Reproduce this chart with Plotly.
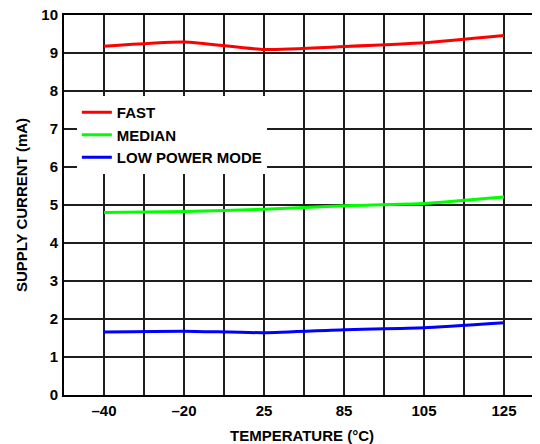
import plotly.graph_objects as go

temps = ["–40", "–20", "25", "85", "105", "125"]
fast = [9.18, 9.29, 9.09, 9.17, 9.27, 9.46]
median = [4.80, 4.83, 4.89, 4.98, 5.04, 5.21]
low_power = [1.66, 1.68, 1.64, 1.72, 1.77, 1.90]

series = [("FAST", fast, "#ff0000"), ("MEDIAN", median, "#00ff00"),
          ("LOW POWER MODE", low_power, "#0000ff")]

FONT = "Liberation Sans, Arial, sans-serif"
GRID = "#1e1e1e"

xs = list(range(len(temps)))
fig = go.Figure()
for name, vals, color in series:
    fig.add_trace(go.Scatter(x=xs, y=vals, name=name, mode="lines",
                             line=dict(color=color, width=3, shape="spline", smoothing=0.5)))

# grid every half step, labels only on the measured temperatures
tickvals = [i / 2 for i in range(-1, 2 * len(temps))]
ticktext = [temps[int(v)] if v >= 0 and v == int(v) else "" for v in tickvals]

# page body has an 8px margin, so the figure is sized to fit inside the window
fig.update_layout(
    width=532, height=436,
    margin=dict(l=56, r=0, t=7, b=49),
    paper_bgcolor="white", plot_bgcolor="white",
    font=dict(family=FONT, size=15, color="black", weight="bold"),
    showlegend=True,
    legend=dict(x=0.027, y=0.787, xanchor="left", yanchor="top", bgcolor="white",
                font=dict(family=FONT, size=15, color="black", weight="bold"),
                itemwidth=30, tracegroupgap=0),
)
# mirror draws the top border (the 10 grid line is dropped at the edge)
fig.update_xaxes(
    range=[-0.5, 5.45], tickmode="array", tickvals=tickvals, ticktext=ticktext,
    showgrid=True, gridcolor=GRID, gridwidth=1.5, zeroline=False,
    showline=True, mirror=True, linecolor="black", linewidth=2, ticks="",
    ticklabelstandoff=1, automargin=False, ticklabeloverflow="allow",
    title=dict(text="TEMPERATURE (°C)", font=dict(size=15, weight="bold"), standoff=13),
)
fig.update_yaxes(
    range=[0, 10], dtick=1, showgrid=True, gridcolor=GRID, gridwidth=1.5,
    zeroline=False, showline=True, linecolor="black", linewidth=2, ticks="",
    ticklabelstandoff=1, automargin=False, ticklabeloverflow="allow",
    title=dict(text="SUPPLY CURRENT (mA)", font=dict(size=15, weight="bold"), standoff=10),
)

fig.write_html("out.html")
